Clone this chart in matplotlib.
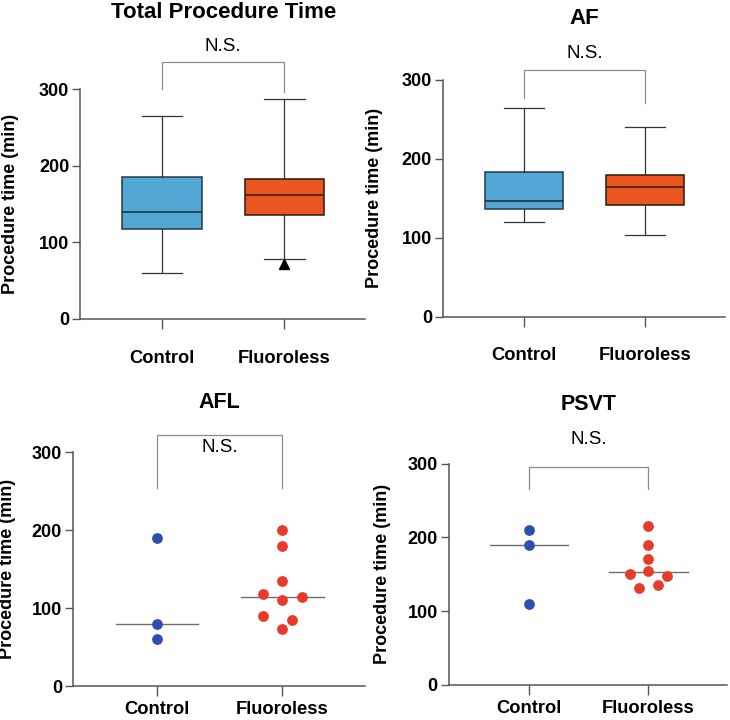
import matplotlib
matplotlib.use("Agg")
import matplotlib.pyplot as plt

plt.rcParams["font.family"] = ["Liberation Sans", "DejaVu Sans"]

groups = ["Control", "Fluoroless"]

# box summaries: whislo, q1, med, q3, whishi
total_control = [60, 117, 140, 185, 265]
total_fluoro = [78, 136, 162, 183, 287]
total_fluoro_outliers = [72]
af_control = [120, 136, 147, 183, 265]
af_fluoro = [103, 142, 165, 179, 240]

# individual points
afl_control = [190, 80, 60]
afl_fluoro = [200, 180, 135, 118, 110, 114, 90, 85, 73]
afl_medians = [80, 114]
psvt_control = [210, 190, 110]
psvt_fluoro = [215, 190, 170, 155, 150, 147, 131, 135]
psvt_medians = [190, 153]

# swarm offsets (in marker steps) for the dot panels
afl_ctrl_off = [0, 0, 0]
afl_fl_off = [0, 0, 0, -1, 0, 1, -1, 0.5, 0]
psvt_ctrl_off = [0, 0, 0]
psvt_fl_off = [0, 0, 0, 0, -1, 1, -0.5, 0.5]

BLUE_BOX = "#52a7d4"
ORANGE_BOX = "#eb5620"
BLUE_DOT = "#2f4fae"
RED_DOT = "#e63b29"
AXC = "#555555"

fig = plt.figure(figsize=(7.3, 7.2), dpi=100)
axes = [
    fig.add_axes([0.110, 0.557, 0.390, 0.319]),
    fig.add_axes([0.607, 0.560, 0.386, 0.329]),
    fig.add_axes([0.100, 0.047, 0.400, 0.325]),
    fig.add_axes([0.615, 0.049, 0.381, 0.307]),
]


def style(ax, xpad, labx):
    ax.set_xlim(0.33, 2.66)
    ax.set_ylim(0, 300)
    ax.set_yticks([0, 100, 200, 300])
    ax.set_xticks([1, 2])
    ax.set_xticklabels(groups, fontsize=13.2, fontweight="bold")
    for lab in ax.get_yticklabels():
        lab.set_fontsize(13)
        lab.set_fontweight("bold")
    ax.tick_params(axis="x", length=7, width=1, color=AXC, pad=xpad)
    ax.tick_params(axis="y", length=6, width=1, color=AXC, pad=2)
    for s in ["top", "right"]:
        ax.spines[s].set_visible(False)
    for s in ["left", "bottom"]:
        ax.spines[s].set_color(AXC)
        ax.spines[s].set_linewidth(1.1)
    ax.set_ylabel("Procedure time (min)", fontsize=13, fontweight="bold")
    ax.yaxis.set_label_coords(labx, 0.5)


def bracket(ax, top, leg1, leg2, ns_y, title, title_y, title_size):
    ax.plot([1, 1, 2, 2], [leg1, top, top, leg2], color="#8a8a8a", lw=0.9,
            clip_on=False)
    ax.text(1.5, ns_y, "N.S.", ha="center", va="center", fontsize=13.5,
            clip_on=False)
    ax.text(1.5, title_y, title, ha="center", va="center", fontsize=title_size,
            fontweight="bold", clip_on=False)


def boxes(ax, ctrl, fl, fliers):
    stats = []
    for vals, fl_pts in [(ctrl, []), (fl, fliers)]:
        stats.append({"whislo": vals[0], "q1": vals[1], "med": vals[2],
                      "q3": vals[3], "whishi": vals[4], "fliers": fl_pts})
    b = ax.bxp(stats, positions=[1, 2], widths=0.65, patch_artist=True,
               showfliers=True,
               boxprops=dict(linewidth=1.1, edgecolor="#243a48"),
               medianprops=dict(color="#1e2a30", linewidth=1.1),
               whiskerprops=dict(color="#333333", linewidth=0.9),
               capprops=dict(color="#333333", linewidth=0.9),
               capwidths=0.33,
               flierprops=dict(marker="^", markerfacecolor="black",
                               markeredgecolor="black", markersize=7))
    b["boxes"][0].set_facecolor(BLUE_BOX)
    b["boxes"][1].set_facecolor(ORANGE_BOX)
    b["boxes"][1].set_edgecolor("#2a1a10")
    b["medians"][1].set_color("#2a1a10")


def dots(ax, ctrl, fl, coff, foff, meds):
    step = 0.155
    ax.scatter([1 + o * step for o in coff], ctrl, s=60, color=BLUE_DOT,
               zorder=3, linewidths=0)
    ax.scatter([2 + o * step for o in foff], fl, s=60, color=RED_DOT,
               zorder=3, linewidths=0)
    for x, m in zip([1, 2], meds):
        ax.plot([x - 0.33, x + 0.33], [m, m], color="#6e6e6e", lw=1.0,
                zorder=2)


ax = axes[0]
boxes(ax, total_control, total_fluoro, total_fluoro_outliers)
style(ax, 15, -0.215)
bracket(ax, 335, 300, 296, 356, "Total Procedure Time", 400, 16)

ax = axes[1]
boxes(ax, af_control, af_fluoro, [])
style(ax, 15, -0.215)
bracket(ax, 313, 277, 271, 334, "AF", 378, 16)

ax = axes[2]
dots(ax, afl_control, afl_fluoro, afl_ctrl_off, afl_fl_off, afl_medians)
style(ax, 4, -0.195)
bracket(ax, 322, 254, 254, 306, "AFL", 364, 15.5)

ax = axes[3]
dots(ax, psvt_control, psvt_fluoro, psvt_ctrl_off, psvt_fl_off, psvt_medians)
style(ax, 4, -0.21)
bracket(ax, 295, 265, 265, 333, "PSVT", 380, 15.5)

plt.savefig("out.png", dpi=100)
